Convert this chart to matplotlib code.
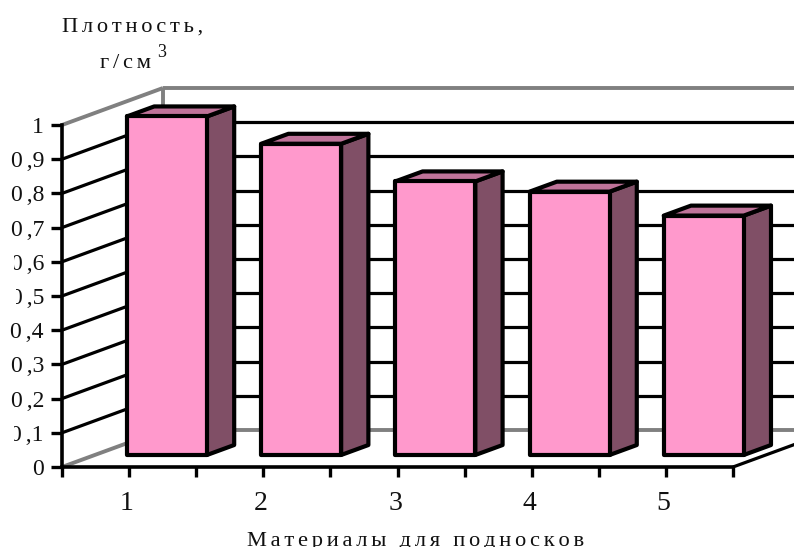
import matplotlib
matplotlib.use("Agg")
import matplotlib.pyplot as plt
from matplotlib.patches import Polygon
from matplotlib.transforms import Bbox, ScaledTranslation

# ---- data ----
categories = ["1", "2", "3", "4", "5"]
density = [0.99, 0.91, 0.80, 0.77, 0.70]
y_ticks = [0, 0.1, 0.2, 0.3, 0.4, 0.5, 0.6, 0.7, 0.8, 0.9, 1]
y_tick_labels = ["0", "0,1", "0,2", "0,3", "0,4", "0,5", "0,6", "0,7", "0,8", "0,9", "1"]
y_title = ["Плотность,", "г/см"]
x_title = "Материалы для подносков"

# ---- style ----
W, H = 794, 547
FRONT, SIDE, TOP = "#FF99CC", "#804F66", "#BF7399"
GRAY = "#808080"
LW = 2.3
BAR_LW = 3.0
DX, DY = 101 / 134.2, 37 / 342.0      # oblique offset of the full depth, data units
BAR_D0, BAR_D1 = 0.324, 0.594
BAR_X0, BAR_W = 0.24, 0.596
HS = "\u200a"                          # tick label spacing
LS = "\u2006"                          # title letter spacing
INK = "#111111"

plt.rcParams["font.family"] = ["Liberation Serif", "DejaVu Serif"]
fig = plt.figure(figsize=(W / 100, H / 100), dpi=100, facecolor="white")
ax = fig.add_axes([62 / W, 1 - 467 / H, 671 / W, 342 / H], facecolor="none")
ax.set_xlim(0, 5)
ax.set_ylim(0, 1)


def pr(x, y, d):
    return (x + d * DX, y + d * DY)


def line(x0, y0, d0, x1, y1, d1, color="black", lw=LW, z=1):
    a, b = pr(x0, y0, d0), pr(x1, y1, d1)
    ax.plot([a[0], b[0]], [a[1], b[1]], color=color, lw=lw, clip_on=False,
            solid_capstyle="butt", zorder=z)


# walls and gridlines
XR = 5.5
for v in y_ticks[1:-1]:
    line(0, v, 0, 0, v, 1)
    line(0, v, 1, XR, v, 1)
line(0, 1, 0, 0, 1, 1, GRAY, 2.8)
line(0, 1, 1, XR, 1, 1, GRAY, 2.8)
line(0, 0, 1, XR, 0, 1, GRAY, 2.8)
line(0, 0, 0, 0, 0, 1, GRAY, 2.8)
line(0, 0, 1, 0, 1, 1, GRAY, 2.8)
line(5, 0, 0, 5, 0, 1, "black")

# bars
for i, v in enumerate(density):
    x0, x1 = i + BAR_X0, i + BAR_X0 + BAR_W
    kw = dict(closed=True, ec="black", lw=BAR_LW, clip_on=False, zorder=3, joinstyle="round")
    ax.add_patch(Polygon([pr(x1, 0, BAR_D0), pr(x1, 0, BAR_D1), pr(x1, v, BAR_D1), pr(x1, v, BAR_D0)], fc=SIDE, **kw))
    ax.add_patch(Polygon([pr(x0, v, BAR_D0), pr(x1, v, BAR_D0), pr(x1, v, BAR_D1), pr(x0, v, BAR_D1)], fc=TOP, **kw))
    ax.add_patch(Polygon([pr(x0, 0, BAR_D0), pr(x1, 0, BAR_D0), pr(x1, v, BAR_D0), pr(x0, v, BAR_D0)], fc=FRONT, **kw))

# axes
for s in ("top", "right"):
    ax.spines[s].set_visible(False)
for s in ("left", "bottom"):
    ax.spines[s].set_linewidth(2.6)
    ax.spines[s].set_zorder(4)

ax.set_yticks(y_ticks)
ax.set_yticklabels([lab.replace(",", HS + HS + ",") for lab in y_tick_labels], fontsize=17, color=INK)
ax.tick_params(axis="y", length=8, width=2.4, pad=5)

ax.set_xticks([k * 0.5 for k in range(11)])
ax.set_xticklabels([categories[k // 2] if k % 2 else "" for k in range(11)], fontsize=20, color=INK)
ax.tick_params(axis="x", length=7.5, width=2.4, pad=10)
shift = ScaledTranslation(-2.5 / 100, 0, fig.dpi_scale_trans)
for lab in ax.get_xticklabels():
    lab.set_transform(lab.get_transform() + shift)

# the reference cuts some labels off at the left
clip_left = {"0,1": 14, "0,5": 16, "0,6": 14}
for src, lab in zip(y_tick_labels, ax.get_yticklabels()):
    if src in clip_left:
        lab.set_clip_on(True)
        lab.set_clip_box(Bbox([[clip_left[src], 0], [W, H]]))

# titles
spaced = lambda s: LS.join(s)
fig.text(133 / W, 1 - 32 / H, spaced(y_title[0]), ha="center", va="baseline", fontsize=16.2, color=INK)
fig.text(151 / W, 1 - 68 / H, spaced(y_title[1]), ha="right", va="baseline", fontsize=16.2, color=INK)
fig.text(157 / W, 1 - 57 / H, "3", ha="left", va="baseline", fontsize=13, color=INK)
fig.text(415.5 / W, 1 - 546 / H, spaced(x_title), ha="center", va="baseline", fontsize=16.2, color=INK)

fig.savefig("out.png", dpi=100, facecolor="white")
